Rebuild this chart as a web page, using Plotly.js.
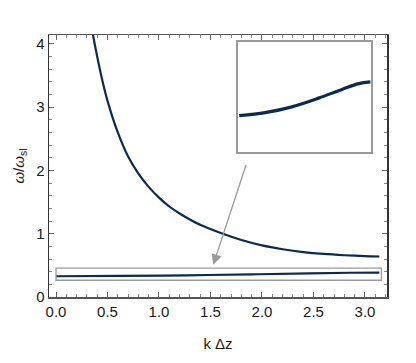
<!DOCTYPE html>
<html>
<head>
<meta charset="utf-8">
<script src="https://cdn.plot.ly/plotly-3.0.1.min.js"></script>
<style>
  html, body { margin: 0; padding: 0; background: #fff; }
  #C1 { width: 416px; height: 363px; }
</style>
</head>
<body>
<div id="C1"></div>
<script>
// upper branch
const kUpper = [0.34, 0.36, 0.40, 0.45, 0.50, 0.60, 0.70, 0.80, 0.90, 1.00, 1.10, 1.20, 1.40, 1.60, 1.80, 2.00, 2.20, 2.40, 2.60, 2.80, 3.00, 3.14];
const wUpper = [4.42, 4.14, 3.80, 3.42, 3.10, 2.60, 2.22, 1.95, 1.74, 1.57, 1.43, 1.32, 1.14, 1.01, 0.90, 0.815, 0.755, 0.71, 0.68, 0.66, 0.645, 0.64];

// lower branch (also shown in the inset)
const kLower = [0.00, 0.62, 1.26, 1.90, 2.46, 2.86, 3.14];
const wLower = [0.328, 0.333, 0.343, 0.358, 0.373, 0.383, 0.386];

const navy = "#0b2a50";
const frame = "#9a9a9a";

const data = [
  {
    x: kUpper, y: wUpper, mode: "lines",
    line: { color: navy, width: 2.2, shape: "spline", smoothing: 0.8 },
    hoverinfo: "skip"
  },
  {
    x: kLower, y: wLower, mode: "lines",
    line: { color: navy, width: 2.2, shape: "spline" },
    hoverinfo: "skip"
  },
  {
    x: kLower, y: wLower, mode: "lines",
    xaxis: "x2", yaxis: "y2",
    line: { color: navy, width: 3.2, shape: "spline" },
    hoverinfo: "skip"
  }
];

const tickFont = { family: "Liberation Sans, Arial, sans-serif", size: 15, color: "#1a1a1a" };

const layout = {
  width: 416,
  height: 363,
  margin: { l: 49, r: 29, t: 35, b: 66 },
  showlegend: false,
  paper_bgcolor: "#fff",
  plot_bgcolor: "#fff",
  font: tickFont,
  xaxis: {
    range: [-0.068, 3.214],
    tickvals: [0, 0.5, 1, 1.5, 2, 2.5, 3],
    ticktext: ["0.0", "0.5", "1.0", "1.5", "2.0", "2.5", "3.0"],
    ticks: "inside", ticklen: 5, tickcolor: "#666",
    minor: { dtick: 0.1, tick0: 0, ticks: "inside", ticklen: 3, tickcolor: "#888" },
    showline: true, linecolor: "#555", linewidth: 1.5, mirror: "ticks",
    showgrid: false, zeroline: false,
    tickfont: tickFont,
    title: { text: "k Δz", font: tickFont, standoff: 20 }
  },
  yaxis: {
    range: [0, 4.14],
    tickvals: [0, 1, 2, 3, 4],
    ticks: "inside", ticklen: 5, tickcolor: "#666",
    minor: { dtick: 0.2, tick0: 0, ticks: "inside", ticklen: 3, tickcolor: "#888" },
    showline: true, linecolor: "#333", linewidth: 1.5, mirror: "ticks",
    showgrid: false, zeroline: false,
    tickfont: tickFont,
    title: { text: "<i>ω</i>/<i>ω</i><sub>sl</sub>", font: tickFont, standoff: 8 }
  },
  // inset: zoom on the boxed region
  xaxis2: {
    domain: [0.559, 0.954], anchor: "y2",
    range: [-0.031, 3.165],
    showticklabels: false, ticks: "", showgrid: false, zeroline: false,
    showline: true, linecolor: frame, linewidth: 1.5, mirror: true
  },
  yaxis2: {
    domain: [0.553, 0.974], anchor: "x2",
    range: [0.265, 0.455],
    showticklabels: false, ticks: "", showgrid: false, zeroline: false,
    showline: true, linecolor: frame, linewidth: 1.5, mirror: true
  },
  shapes: [
    {
      type: "rect", xref: "x", yref: "y",
      x0: 0.0, x1: 3.16, y0: 0.265, y1: 0.455,
      line: { color: frame, width: 1.3 }, fillcolor: "rgba(0,0,0,0)"
    }
  ],
  annotations: [
    {
      xref: "x", yref: "y", axref: "x", ayref: "y",
      x: 1.527, y: 0.51, ax: 1.85, ay: 2.11,
      text: "", showarrow: true, arrowhead: 2, arrowsize: 1.6, arrowwidth: 1.3,
      arrowcolor: "#999", standoff: 0
    }
  ]
};

Plotly.newPlot("C1", data, layout, { staticPlot: true });
</script>
</body>
</html>
